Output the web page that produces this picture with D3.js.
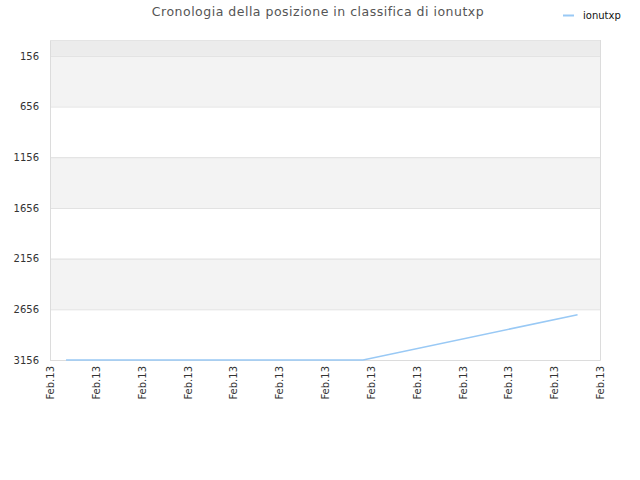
<!DOCTYPE html>
<html><head><meta charset="utf-8">
<script src="https://cdn.jsdelivr.net/npm/d3@7"></script>
<style>body{margin:0;background:#fff;}svg{display:block;font-family:"DejaVu Sans",sans-serif;}</style>
</head><body><svg id="c" width="640" height="480"></svg>
<script>
const title = "Cronologia della posizione in classifica di ionutxp";
const seriesName = "ionutxp";
// x positions in tick units (13 ticks, all on Feb.13)
const xTickLabels = ["Feb.13","Feb.13","Feb.13","Feb.13","Feb.13","Feb.13","Feb.13","Feb.13","Feb.13","Feb.13","Feb.13","Feb.13","Feb.13"];
const pointX = [0.35, 6.83, 11.51];
const pointRank = [3156, 3156, 2709];
const yTicks = [156, 656, 1156, 1656, 2156, 2656, 3156];

const svg = d3.select("#c");
const L = 50, R = 600, T = 40, B = 360;
const x = d3.scaleLinear().domain([0, xTickLabels.length - 1]).range([L, R]);
const y = d3.scaleLinear().domain([0, 3156]).range([T, B]);

// top band above first tick
svg.append("rect").attr("x", L).attr("y", T).attr("width", R - L).attr("height", y(yTicks[0]) - T).attr("fill", "#ececec");
// alternating bands
for (let i = 0; i < yTicks.length - 1; i++) {
  svg.append("rect").attr("x", L).attr("y", y(yTicks[i])).attr("width", R - L)
    .attr("height", y(yTicks[i + 1]) - y(yTicks[i]))
    .attr("fill", i % 2 === 0 ? "#f3f3f3" : "#ffffff");
}
// grid lines
svg.append("g").selectAll("line").data(yTicks).join("line")
  .attr("x1", L).attr("x2", R).attr("y1", d => y(d) + 0.5).attr("y2", d => y(d) + 0.5)
  .attr("stroke", "#e0e0e0").attr("stroke-width", 1);
// frame
svg.append("path").attr("d", `M${L+0.5},${T}V${B+0.5}H${R+0.5}V${T}`).attr("fill", "none").attr("stroke", "#dcdcdc");
svg.append("line").attr("x1", L).attr("x2", R).attr("y1", T + 0.5).attr("y2", T + 0.5).attr("stroke", "#e4e4e4");

// y axis labels
const yAxis = d3.axisLeft(y).tickValues(yTicks).tickFormat(d3.format("d")).tickSize(0).tickPadding(11);
const gy = svg.append("g").attr("transform", `translate(${L},0)`).call(yAxis);
gy.select(".domain").remove();
gy.selectAll("text").attr("fill", "#333").attr("font-size", 10).attr("font-family", "DejaVu Sans, sans-serif");

// x axis labels
const xAxis = d3.axisBottom(x).tickValues(d3.range(xTickLabels.length)).tickFormat(i => xTickLabels[i]).tickSize(0);
const gx = svg.append("g").attr("transform", `translate(0,${B})`).call(xAxis);
gx.select(".domain").remove();
gx.selectAll("text").attr("fill", "#333").attr("font-size", 10).attr("font-family", "DejaVu Sans, sans-serif")
  .attr("transform", "rotate(-90)").attr("text-anchor", "end").attr("dy", "0.35em").attr("x", -6).attr("y", 0);

// line
const line = d3.line().x((d, i) => x(pointX[i])).y(d => y(d));
svg.append("path").datum(pointRank).attr("d", line).attr("fill", "none").attr("stroke", "#99c9f5").attr("stroke-width", 1.5);

// title
svg.append("text").attr("x", 318).attr("y", 16).attr("text-anchor", "middle").attr("font-size", 12.5)
  .attr("letter-spacing", 0.5).attr("fill", "#555").text(title);
// legend
svg.append("line").attr("x1", 563).attr("x2", 574).attr("y1", 15.5).attr("y2", 15.5).attr("stroke", "#99c9f5").attr("stroke-width", 2);
svg.append("text").attr("x", 583).attr("y", 18.5).attr("font-size", 10).attr("fill", "#111").text(seriesName);
</script></body></html>
